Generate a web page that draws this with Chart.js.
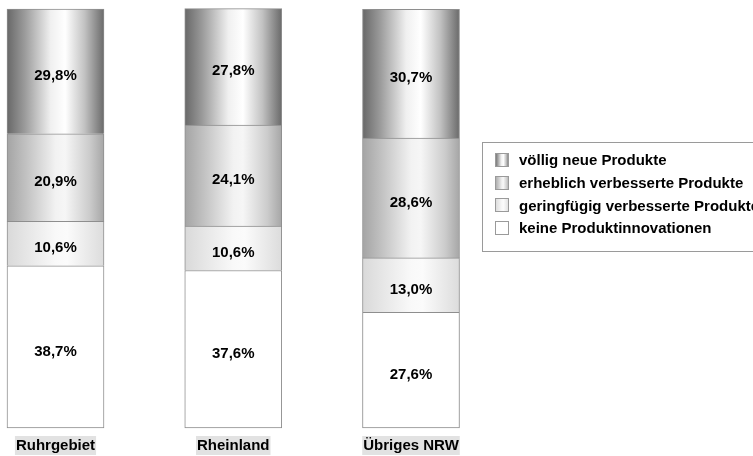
<!DOCTYPE html>
<html lang="de">
<head>
<meta charset="utf-8">
<title>Produktinnovationen nach Region</title>
<script src="https://cdn.jsdelivr.net/npm/chart.js@4/dist/chart.umd.min.js"></script>
<style>
  html, body { margin: 0; padding: 0; background: #ffffff; }
  #wrap { position: relative; width: 753px; height: 456px; }
</style>
</head>
<body>
<div id="wrap"><canvas id="chart" width="753" height="456"></canvas></div>
<script>
// Regionen (x-Achse)
const regions = ['Ruhrgebiet', 'Rheinland', 'Übriges NRW'];

// Anteile in Prozent, von unten nach oben gestapelt
const keineInnovation = [38.7, 37.6, 27.6];
const geringfuegig = [10.6, 10.6, 13.0];
const erheblich = [20.9, 24.1, 28.6];
const voelligNeu = [29.8, 27.8, 30.7];

// Legendentexte (Reihenfolge wie in der Legende, oben beginnend)
const seriesNames = [
  'völlig neue Produkte',
  'erheblich verbesserte Produkte',
  'geringfügig verbesserte Produkte',
  'keine Produktinnovationen'
];

const FONT = "'Liberation Sans', Arial, Helvetica, sans-serif";
const FONT_SIZE = 15;
const BAR_W = 97;

// Zylinder-Schattierung: Farbstopps quer über den Balken
const shades = {
  voellig: [[0, '#686868'], [0.18, '#9a9a9a'], [0.45, '#f0f0f0'], [0.6, '#ffffff'], [0.8, '#c2c2c2'], [1, '#6a6a6a']],
  erheblich: [[0, '#a4a4a4'], [0.2, '#c2c2c2'], [0.5, '#f2f2f2'], [0.6, '#f6f6f6'], [0.85, '#cccccc'], [1, '#a6a6a6']],
  gering: [[0, '#d9d9d9'], [0.5, '#f9f9f9'], [0.62, '#fbfbfb'], [1, '#dcdcdc']],
  keine: [[0, '#ffffff'], [1, '#ffffff']]
};

function makeGradient(ctx, x0, x1, stops) {
  const g = ctx.createLinearGradient(x0, 0, x1, 0);
  stops.forEach(([o, c]) => g.addColorStop(o, c));
  return g;
}

function barFill(stops) {
  return (context) => {
    const chart = context.chart;
    const xs = chart.scales && chart.scales.x;
    if (!chart.chartArea || !xs || context.dataIndex === undefined) return stops[0][1];
    const cx = xs.getPixelForValue(context.dataIndex);
    return makeGradient(chart.ctx, cx - BAR_W / 2, cx + BAR_W / 2, stops);
  };
}

function fmt(v) {
  return v.toFixed(1).replace('.', ',') + '%';
}

const datasets = [
  { label: seriesNames[3], data: keineInnovation, stops: shades.keine, borderSkipped: false },
  { label: seriesNames[2], data: geringfuegig, stops: shades.gering, borderSkipped: 'start' },
  { label: seriesNames[1], data: erheblich, stops: shades.erheblich, borderSkipped: 'start' },
  { label: seriesNames[0], data: voelligNeu, stops: shades.voellig, borderSkipped: 'start' }
].map(d => ({
  label: d.label,
  data: d.data,
  stops: d.stops,
  backgroundColor: barFill(d.stops),
  borderColor: '#8e8e8e',
  borderWidth: 1,
  borderSkipped: d.borderSkipped,
  barThickness: BAR_W,
  clip: false
}));

// Prozentwerte mittig in jedes Segment schreiben
const valueLabels = {
  id: 'valueLabels',
  afterDatasetsDraw(chart) {
    const ctx = chart.ctx;
    ctx.save();
    ctx.font = 'bold ' + FONT_SIZE + 'px ' + FONT;
    ctx.fillStyle = '#000000';
    ctx.textAlign = 'center';
    ctx.textBaseline = 'middle';
    chart.data.datasets.forEach((ds, i) => {
      const meta = chart.getDatasetMeta(i);
      meta.data.forEach((bar, j) => {
        const p = bar.getProps(['x', 'y', 'base'], true);
        ctx.fillText(fmt(ds.data[j]), p.x, (p.y + p.base) / 2 + 4.5);
      });
    });
    ctx.restore();
  }
};

// Legende rechts neben dem Diagramm mit umrandetem Kasten
const boxLegend = {
  id: 'boxLegend',
  afterDraw(chart) {
    const ctx = chart.ctx;
    const left = 482, top = 142, bottom = 251;
    ctx.save();
    ctx.fillStyle = '#ffffff';
    ctx.fillRect(left, top, 320, bottom - top);
    ctx.strokeStyle = '#9a9a9a';
    ctx.lineWidth = 1;
    ctx.strokeRect(left + 0.5, top + 0.5, 320, bottom - top);
    ctx.font = 'bold ' + FONT_SIZE + 'px ' + FONT;
    ctx.textBaseline = 'middle';
    ctx.textAlign = 'left';
    const order = chart.data.datasets.slice().reverse();
    order.forEach((ds, k) => {
      const cy = 160 + k * 22.7;
      const sx = 495, sy = Math.round(cy - 7), sw = 14, sh = 14;
      ctx.fillStyle = makeGradient(ctx, sx, sx + sw, ds.stops);
      ctx.fillRect(sx, sy, sw, sh);
      ctx.strokeStyle = '#9a9a9a';
      ctx.strokeRect(sx + 0.5, sy + 0.5, sw - 1, sh - 1);
      ctx.fillStyle = '#000000';
      ctx.fillText(ds.label, 519, cy + 1);
    });
    ctx.restore();
  }
};

new Chart(document.getElementById('chart'), {
  type: 'bar',
  data: { labels: regions, datasets },
  options: {
    responsive: false,
    animation: false,
    devicePixelRatio: 1,
    layout: { padding: { left: 55.5, right: 342, top: 9, bottom: -8 } },
    plugins: {
      legend: { display: false },
      tooltip: { enabled: false }
    },
    scales: {
      x: {
        stacked: true,
        offset: false,
        grid: { display: false, drawTicks: false },
        border: { display: false },
        ticks: {
          padding: 9,
          color: '#000000',
          font: { family: FONT, size: FONT_SIZE, weight: 'bold' },
          showLabelBackdrop: true,
          backdropColor: '#e2e2e2',
          backdropPadding: { top: 1, bottom: 0, left: 1, right: 1 },
          maxRotation: 0
        }
      },
      y: {
        stacked: true,
        display: false,
        min: 0,
        max: 100
      }
    }
  },
  plugins: [valueLabels, boxLegend]
});
</script>
</body>
</html>
